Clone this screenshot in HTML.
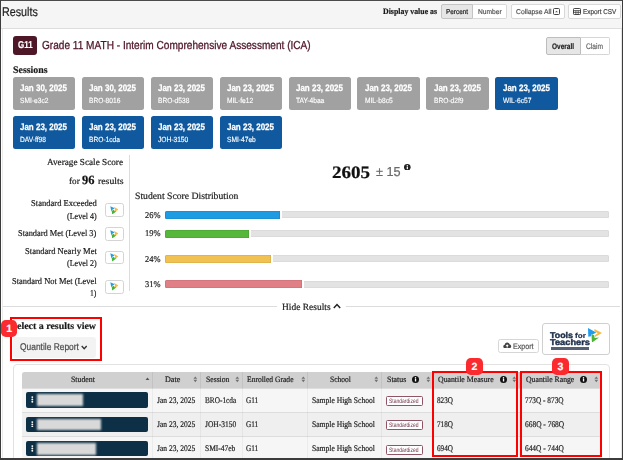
<!DOCTYPE html>
<html><head><meta charset="utf-8"><title>Results</title>
<style>
html,body{margin:0;padding:0;}
body{width:623px;height:460px;position:relative;overflow:hidden;background:#fff;font-family:"Liberation Sans", sans-serif;}
#root{position:absolute;left:0;top:0;width:623px;height:460px;overflow:hidden;background:#fff;}
#root div,#root svg{position:absolute;box-sizing:border-box;}
.t{position:absolute;white-space:nowrap;transform-origin:0 50%;display:block;-webkit-text-stroke:0.2px currentColor;text-rendering:geometricPrecision;}
.sa{font-family:"Liberation Sans", sans-serif;}
.se{font-family:"Liberation Serif", serif;}
</style></head><body><div id="root">
<div style="left:1px;top:1px;width:621px;height:27px;background:#f5f5f5"></div>
<div style="left:1px;top:28px;width:621px;height:1px;background:#dedede"></div>
<div style="left:2px;top:29px;width:619.5px;height:430px;background:#fff;border-left:1px solid #ebebeb;border-right:1px solid #e6e6e6"></div>
<div style="left:441px;top:4.4px;width:32px;height:15px;background:#e6e6e6;border:1px solid #c4c4c4;border-radius:2px 0 0 2px"></div>
<div style="left:472.5px;top:4.4px;width:34.5px;height:15px;background:#fff;border:1px solid #d8d8d8;border-left:none;border-radius:0 2px 2px 0"></div>
<div style="left:511.2px;top:4.4px;width:53.4px;height:15px;background:#fff;border:1px solid #d8d8d8;border-radius:2px"></div>
<svg style="left:553px;top:8.2px" width="7" height="7" viewBox="0 0 7 7"><rect x="0.5" y="0.5" width="6" height="6" rx="1" fill="none" stroke="#444" stroke-width="1"/><path d="M2 4.3 L3.5 2.7 L5 4.3 Z" fill="#555"/></svg>
<div style="left:568.2px;top:4.4px;width:52.7px;height:15px;background:#fff;border:1px solid #d8d8d8;border-radius:2px"></div>
<svg style="left:573px;top:8.2px" width="8" height="7" viewBox="0 0 8 7"><rect x="0.5" y="0.5" width="7" height="6" rx="0.8" fill="none" stroke="#444" stroke-width="1"/><path d="M0.5 2.6H7.5M0.5 4.4H7.5M2.9 2.6V6.5M5.2 2.6V6.5" stroke="#444" stroke-width="0.8" fill="none"/></svg>
<div style="left:13px;top:36px;width:24px;height:19px;background:#4d1728;border-radius:3px"></div>
<div style="left:546px;top:37.3px;width:35px;height:17.4px;background:#e6e6e6;border:1px solid #bdbdbd;border-radius:2px 0 0 2px"></div>
<div style="left:581px;top:37.3px;width:29.2px;height:17.4px;background:#fff;border:1px solid #d6d6d6;border-left:none;border-radius:0 2px 2px 0"></div>
<div style="left:12.7px;top:77.1px;width:62.7px;height:32.7px;background:#a1a1a1;border-radius:2.5px"></div>
<div style="left:81.65px;top:77.1px;width:62.7px;height:32.7px;background:#a1a1a1;border-radius:2.5px"></div>
<div style="left:150.6px;top:77.1px;width:62.7px;height:32.7px;background:#a1a1a1;border-radius:2.5px"></div>
<div style="left:219.55px;top:77.1px;width:62.7px;height:32.7px;background:#a1a1a1;border-radius:2.5px"></div>
<div style="left:288.5px;top:77.1px;width:62.7px;height:32.7px;background:#a1a1a1;border-radius:2.5px"></div>
<div style="left:357.45px;top:77.1px;width:62.7px;height:32.7px;background:#a1a1a1;border-radius:2.5px"></div>
<div style="left:426.40000000000003px;top:77.1px;width:62.7px;height:32.7px;background:#a1a1a1;border-radius:2.5px"></div>
<div style="left:495.35px;top:77.1px;width:62.7px;height:32.7px;background:#11599e;border-radius:2.5px"></div>
<div style="left:12.7px;top:116.3px;width:62.7px;height:32.7px;background:#11599e;border-radius:2.5px"></div>
<div style="left:81.65px;top:116.3px;width:62.7px;height:32.7px;background:#11599e;border-radius:2.5px"></div>
<div style="left:150.6px;top:116.3px;width:62.7px;height:32.7px;background:#11599e;border-radius:2.5px"></div>
<div style="left:219.55px;top:116.3px;width:62.7px;height:32.7px;background:#11599e;border-radius:2.5px"></div>
<svg style="left:404px;top:163.7px" width="6.6" height="6.6" viewBox="0 0 10 10"><circle cx="5" cy="5" r="5" fill="#222"/><rect x="4.1" y="4.2" width="1.9" height="3.6" fill="#fff"/><circle cx="5" cy="2.7" r="1.1" fill="#fff"/></svg>
<div style="left:129px;top:155px;width:1px;height:136px;background:#dcdcdc"></div>
<div style="left:105px;top:203.1px;width:18.8px;height:13.8px;background:#fff;border:1px solid #d4d4d4;border-radius:2.5px"></div>
<svg style="left:109.9px;top:205.7px" width="8.6" height="8.4" viewBox="0 0 18 18"><path d="M0.5 0.5 L10 5 L5.5 7.5 L2.5 11 Z" fill="#1f9cf0"/><path d="M8 1.5 L17.5 7.5 L10.5 12.5 L9 9.5 L11 7 Z" fill="#f5b840"/><path d="M3.5 10.5 L7.5 8 L9.5 11.5 L14 11.5 L4.5 18 Z" fill="#3fb43a"/></svg>
<div style="left:105px;top:227.4px;width:18.8px;height:13.8px;background:#fff;border:1px solid #d4d4d4;border-radius:2.5px"></div>
<svg style="left:109.9px;top:230.0px" width="8.6" height="8.4" viewBox="0 0 18 18"><path d="M0.5 0.5 L10 5 L5.5 7.5 L2.5 11 Z" fill="#1f9cf0"/><path d="M8 1.5 L17.5 7.5 L10.5 12.5 L9 9.5 L11 7 Z" fill="#f5b840"/><path d="M3.5 10.5 L7.5 8 L9.5 11.5 L14 11.5 L4.5 18 Z" fill="#3fb43a"/></svg>
<div style="left:105px;top:250.6px;width:18.8px;height:13.8px;background:#fff;border:1px solid #d4d4d4;border-radius:2.5px"></div>
<svg style="left:109.9px;top:253.2px" width="8.6" height="8.4" viewBox="0 0 18 18"><path d="M0.5 0.5 L10 5 L5.5 7.5 L2.5 11 Z" fill="#1f9cf0"/><path d="M8 1.5 L17.5 7.5 L10.5 12.5 L9 9.5 L11 7 Z" fill="#f5b840"/><path d="M3.5 10.5 L7.5 8 L9.5 11.5 L14 11.5 L4.5 18 Z" fill="#3fb43a"/></svg>
<div style="left:105px;top:279.8px;width:18.8px;height:13.8px;background:#fff;border:1px solid #d4d4d4;border-radius:2.5px"></div>
<svg style="left:109.9px;top:282.40000000000003px" width="8.6" height="8.4" viewBox="0 0 18 18"><path d="M0.5 0.5 L10 5 L5.5 7.5 L2.5 11 Z" fill="#1f9cf0"/><path d="M8 1.5 L17.5 7.5 L10.5 12.5 L9 9.5 L11 7 Z" fill="#f5b840"/><path d="M3.5 10.5 L7.5 8 L9.5 11.5 L14 11.5 L4.5 18 Z" fill="#3fb43a"/></svg>
<div style="left:165px;top:211.10000000000002px;width:444.3px;height:7.3px;background:#e3e3e3;border-radius:1.5px;box-shadow:inset 0 0 0 0.6px rgba(0,0,0,0.07)"></div>
<div style="left:165px;top:210.60000000000002px;width:116.80000000000001px;height:8.2px;background:#fff"></div>
<div style="left:165px;top:210.70000000000002px;width:114.80000000000001px;height:8px;background:#1d9be3;border-radius:1.5px 0 0 1.5px;box-shadow:inset 0 0 0 0.6px rgba(0,0,0,0.13)"></div>
<div style="left:165px;top:230.0px;width:444.3px;height:7.3px;background:#e3e3e3;border-radius:1.5px;box-shadow:inset 0 0 0 0.6px rgba(0,0,0,0.07)"></div>
<div style="left:165px;top:229.5px;width:85.80000000000001px;height:8.2px;background:#fff"></div>
<div style="left:165px;top:229.6px;width:83.80000000000001px;height:8px;background:#56b73a;border-radius:1.5px 0 0 1.5px;box-shadow:inset 0 0 0 0.6px rgba(0,0,0,0.13)"></div>
<div style="left:165px;top:255.0px;width:444.3px;height:7.3px;background:#e3e3e3;border-radius:1.5px;box-shadow:inset 0 0 0 0.6px rgba(0,0,0,0.07)"></div>
<div style="left:165px;top:254.5px;width:107.9px;height:8.2px;background:#fff"></div>
<div style="left:165px;top:254.6px;width:105.9px;height:8px;background:#f1c152;border-radius:1.5px 0 0 1.5px;box-shadow:inset 0 0 0 0.6px rgba(0,0,0,0.13)"></div>
<div style="left:165px;top:280.7px;width:444.3px;height:7.3px;background:#e3e3e3;border-radius:1.5px;box-shadow:inset 0 0 0 0.6px rgba(0,0,0,0.07)"></div>
<div style="left:165px;top:280.2px;width:139.0px;height:8.2px;background:#fff"></div>
<div style="left:165px;top:280.29999999999995px;width:137.0px;height:8px;background:#e17f87;border-radius:1.5px 0 0 1.5px;box-shadow:inset 0 0 0 0.6px rgba(0,0,0,0.13)"></div>
<div style="left:3px;top:306.4px;width:274px;height:1px;background:#dcdcdc"></div>
<div style="left:345.7px;top:306.4px;width:274.5px;height:1px;background:#dcdcdc"></div>
<svg style="left:332.8px;top:303.1px" width="8" height="6" viewBox="0 0 8 6"><path d="M0.8 5 L4 1.6 L7.2 5" fill="none" stroke="#222" stroke-width="1.5"/></svg>
<div style="left:13px;top:336.5px;width:83px;height:21.5px;background:#f3f3f3;border-radius:3px"></div>
<svg style="left:81px;top:344.8px" width="6.4" height="5" viewBox="0 0 8 6"><path d="M0.9 1.2 L4 4.5 L7.1 1.2" fill="none" stroke="#333" stroke-width="1.7"/></svg>
<div style="left:498px;top:338.5px;width:40.6px;height:14px;background:#fff;border:1px solid #d6d6d6;border-radius:2.5px"></div>
<svg style="left:503.2px;top:341.9px" width="8.4" height="6.6" viewBox="0 0 15 12"><path d="M3.5 11.5a3.3 3.3 0 0 1-.6-6.5A4.6 4.6 0 0 1 11.8 4 3.8 3.8 0 0 1 11.5 11.5Z" fill="#444"/><path d="M7.5 4 L10.3 7.2H8.5V9.8H6.5V7.2H4.7Z" fill="#fff"/></svg>
<div style="left:542.3px;top:323.3px;width:67.6px;height:31.9px;background:#fff;border:1px solid #cfcfcf;border-radius:3px"></div>
<div style="left:550.8px;top:347.2px;width:38.6px;height:3.1px;background:#565f73"></div>
<svg style="left:587.9px;top:327.8px" width="14" height="14.6" viewBox="0 0 14 14.6"><path d="M0 0 L8.2 4.5 L4.6 6.4 L3.4 6 L3 8.2 L0.3 8.8 Z" fill="#1f9cf0"/><path d="M6.4 0.9 L14 4.9 L7 9.1 L6.7 7.3 L9.8 5.2 L6.4 3.2 Z" fill="#f3ba45"/><path d="M3.4 6.1 L6.1 7.3 L6.7 10 L11 9.4 L4 14.6 Z" fill="#4ab535"/></svg>
<div style="left:12.7px;top:364.1px;width:597.8px;height:110px;background:#fff;border:1px solid #e2e2e2;border-radius:4px"></div>
<div style="left:21.5px;top:372px;width:580.0px;height:15.5px;background:#d0d0d0;border-radius:2.5px 2.5px 0 0"></div>
<div style="left:21.5px;top:387.5px;width:580.0px;height:24.6px;background:#f6f6f6;border-top:1px solid #dddddd"></div>
<div style="left:21.5px;top:411.9px;width:580.0px;height:24.6px;background:#efefef;border-top:1px solid #dddddd"></div>
<div style="left:21.5px;top:436.3px;width:580.0px;height:24.6px;background:#f6f6f6;border-top:1px solid #dddddd"></div>
<div style="left:152.3px;top:372px;width:1px;height:15.5px;background:#c2c2c2"></div>
<div style="left:152.3px;top:387.5px;width:1px;height:80px;background:rgba(0,0,0,0.045)"></div>
<div style="left:200.4px;top:372px;width:1px;height:15.5px;background:#c2c2c2"></div>
<div style="left:200.4px;top:387.5px;width:1px;height:80px;background:rgba(0,0,0,0.045)"></div>
<div style="left:241.7px;top:372px;width:1px;height:15.5px;background:#c2c2c2"></div>
<div style="left:241.7px;top:387.5px;width:1px;height:80px;background:rgba(0,0,0,0.045)"></div>
<div style="left:307.2px;top:372px;width:1px;height:15.5px;background:#c2c2c2"></div>
<div style="left:307.2px;top:387.5px;width:1px;height:80px;background:rgba(0,0,0,0.045)"></div>
<div style="left:381.3px;top:372px;width:1px;height:15.5px;background:#c2c2c2"></div>
<div style="left:381.3px;top:387.5px;width:1px;height:80px;background:rgba(0,0,0,0.045)"></div>
<div style="left:433.0px;top:372px;width:1px;height:15.5px;background:#c2c2c2"></div>
<div style="left:433.0px;top:387.5px;width:1px;height:80px;background:rgba(0,0,0,0.045)"></div>
<div style="left:518.5px;top:372px;width:1px;height:15.5px;background:#c2c2c2"></div>
<div style="left:518.5px;top:387.5px;width:1px;height:80px;background:rgba(0,0,0,0.045)"></div>
<svg style="left:193.3px;top:376.0px" width="4.6" height="6.6" viewBox="0 0 4.4 7"><path d="M0.2 2.9 L2.2 0.4 L4.2 2.9 Z M0.2 4.1 L2.2 6.6 L4.2 4.1 Z" fill="#707070"/></svg>
<svg style="left:235.20000000000002px;top:376.0px" width="4.6" height="6.6" viewBox="0 0 4.4 7"><path d="M0.2 2.9 L2.2 0.4 L4.2 2.9 Z M0.2 4.1 L2.2 6.6 L4.2 4.1 Z" fill="#707070"/></svg>
<svg style="left:300.5px;top:376.0px" width="4.6" height="6.6" viewBox="0 0 4.4 7"><path d="M0.2 2.9 L2.2 0.4 L4.2 2.9 Z M0.2 4.1 L2.2 6.6 L4.2 4.1 Z" fill="#707070"/></svg>
<svg style="left:374.2px;top:376.0px" width="4.6" height="6.6" viewBox="0 0 4.4 7"><path d="M0.2 2.9 L2.2 0.4 L4.2 2.9 Z M0.2 4.1 L2.2 6.6 L4.2 4.1 Z" fill="#707070"/></svg>
<svg style="left:425.5px;top:376.0px" width="4.6" height="6.6" viewBox="0 0 4.4 7"><path d="M0.2 2.9 L2.2 0.4 L4.2 2.9 Z M0.2 4.1 L2.2 6.6 L4.2 4.1 Z" fill="#707070"/></svg>
<svg style="left:512.4px;top:376.0px" width="4.6" height="6.6" viewBox="0 0 4.4 7"><path d="M0.2 2.9 L2.2 0.4 L4.2 2.9 Z M0.2 4.1 L2.2 6.6 L4.2 4.1 Z" fill="#707070"/></svg>
<svg style="left:594.1px;top:376.0px" width="4.6" height="6.6" viewBox="0 0 4.4 7"><path d="M0.2 2.9 L2.2 0.4 L4.2 2.9 Z M0.2 4.1 L2.2 6.6 L4.2 4.1 Z" fill="#707070"/></svg>
<svg style="left:144.7px;top:376.8px" width="5" height="3.6" viewBox="0 0 4.6 3.4"><path d="M0.2 3.2 L2.3 0.4 L4.4 3.2 Z" fill="#555"/></svg>
<svg style="left:412.0px;top:376.1px" width="7" height="7" viewBox="0 0 10 10"><circle cx="5" cy="5" r="5" fill="#111"/><rect x="4.1" y="4.2" width="1.9" height="3.6" fill="#fff"/><circle cx="5" cy="2.7" r="1.1" fill="#fff"/></svg>
<svg style="left:499.5px;top:376.1px" width="7" height="7" viewBox="0 0 10 10"><circle cx="5" cy="5" r="5" fill="#111"/><rect x="4.1" y="4.2" width="1.9" height="3.6" fill="#fff"/><circle cx="5" cy="2.7" r="1.1" fill="#fff"/></svg>
<svg style="left:580.0px;top:376.1px" width="7" height="7" viewBox="0 0 10 10"><circle cx="5" cy="5" r="5" fill="#111"/><rect x="4.1" y="4.2" width="1.9" height="3.6" fill="#fff"/><circle cx="5" cy="2.7" r="1.1" fill="#fff"/></svg>
<div style="left:25.9px;top:392.1px;width:122px;height:15.6px;background:#0e3046;border-radius:2px"></div>
<svg style="left:31.1px;top:396.3px" width="2.6" height="6.8" viewBox="0 0 2.6 6.8"><circle cx="1.3" cy="1.1" r="0.95" fill="#fff"/><circle cx="1.3" cy="3.4" r="0.95" fill="#fff"/><circle cx="1.3" cy="5.7" r="0.95" fill="#fff"/></svg>
<div style="left:36.5px;top:394.2px;width:46.5px;height:11.5px;background:#d9d9d9;filter:blur(1px)"></div>
<div style="left:386px;top:396.0px;width:36.8px;height:9.8px;background:#fff;border:1px solid #8f5564;border-radius:1.5px"></div>
<div style="left:25.9px;top:416.5px;width:122px;height:15.6px;background:#0e3046;border-radius:2px"></div>
<svg style="left:31.1px;top:420.7px" width="2.6" height="6.8" viewBox="0 0 2.6 6.8"><circle cx="1.3" cy="1.1" r="0.95" fill="#fff"/><circle cx="1.3" cy="3.4" r="0.95" fill="#fff"/><circle cx="1.3" cy="5.7" r="0.95" fill="#fff"/></svg>
<div style="left:36.5px;top:418.59999999999997px;width:64.7px;height:11.5px;background:#d9d9d9;filter:blur(1px)"></div>
<div style="left:386px;top:420.4px;width:36.8px;height:9.8px;background:#fff;border:1px solid #8f5564;border-radius:1.5px"></div>
<div style="left:25.9px;top:440.90000000000003px;width:122px;height:15.6px;background:#0e3046;border-radius:2px"></div>
<svg style="left:31.1px;top:445.1px" width="2.6" height="6.8" viewBox="0 0 2.6 6.8"><circle cx="1.3" cy="1.1" r="0.95" fill="#fff"/><circle cx="1.3" cy="3.4" r="0.95" fill="#fff"/><circle cx="1.3" cy="5.7" r="0.95" fill="#fff"/></svg>
<div style="left:36.5px;top:443.0px;width:59.3px;height:11.5px;background:#d9d9d9;filter:blur(1px)"></div>
<div style="left:386px;top:444.8px;width:36.8px;height:9.8px;background:#fff;border:1px solid #8f5564;border-radius:1.5px"></div>
<span class="t sa" style="left:1.90px;top:5.00px;font-weight:400;font-size:12.6px;line-height:15.12px;color:#1c1c1c;transform:scaleX(0.8524);">Results</span>
<span class="t se" style="left:382.70px;top:7.00px;font-weight:700;font-size:8.4px;line-height:10.08px;color:#1a1a1a;transform:scaleX(0.9373);">Display value as</span>
<span class="t sa" style="left:446.00px;top:9.00px;font-weight:400;font-size:7px;line-height:8.4px;color:#222;transform:scaleX(0.9161);">Percent</span>
<span class="t sa" style="left:478.20px;top:9.00px;font-weight:400;font-size:7px;line-height:8.4px;color:#555;transform:scaleX(0.9476);">Number</span>
<span class="t sa" style="left:515.70px;top:9.00px;font-weight:400;font-size:7px;line-height:8.4px;color:#555;transform:scaleX(0.9705);">Collapse All</span>
<span class="t sa" style="left:582.70px;top:9.00px;font-weight:400;font-size:7px;line-height:8.4px;color:#444;transform:scaleX(0.9104);">Export CSV</span>
<span class="t sa" style="left:17.60px;top:40.00px;font-weight:700;font-size:10px;line-height:12.0px;color:#fff;transform:scaleX(0.7952);">G11</span>
<span class="t sa" style="left:41.90px;top:39.00px;font-weight:400;font-size:11.6px;line-height:13.92px;color:#4f172b;transform:scaleX(0.8700);-webkit-text-stroke:0.3px #4f172b;">Grade 11 MATH - Interim Comprehensive Assessment (ICA)</span>
<span class="t sa" style="left:552.00px;top:42.00px;font-weight:700;font-size:8px;line-height:9.6px;color:#222;transform:scaleX(0.8106);">Overall</span>
<span class="t sa" style="left:586.20px;top:42.00px;font-weight:400;font-size:8px;line-height:9.6px;color:#666;transform:scaleX(0.8312);">Claim</span>
<span class="t se" style="left:13.00px;top:65.00px;font-weight:700;font-size:10px;line-height:12.0px;color:#1a1a1a;transform:scaleX(0.9881);">Sessions</span>
<span class="t sa" style="left:20.30px;top:82.00px;font-weight:700;font-size:9.4px;line-height:11.28px;color:#fff;transform:scaleX(0.8504);-webkit-text-stroke:0.25px #fff;">Jan 30, 2025</span>
<span class="t sa" style="left:20.30px;top:96.00px;font-weight:400;font-size:7.5px;line-height:9.0px;color:#fff;transform:scaleX(0.8850);-webkit-text-stroke:0.15px #fff;">SMI-e3c2</span>
<span class="t sa" style="left:89.25px;top:82.00px;font-weight:700;font-size:9.4px;line-height:11.28px;color:#fff;transform:scaleX(0.8504);-webkit-text-stroke:0.25px #fff;">Jan 30, 2025</span>
<span class="t sa" style="left:89.25px;top:96.00px;font-weight:400;font-size:7.5px;line-height:9.0px;color:#fff;transform:scaleX(0.8850);-webkit-text-stroke:0.15px #fff;">BRO-8016</span>
<span class="t sa" style="left:158.20px;top:82.00px;font-weight:700;font-size:9.4px;line-height:11.28px;color:#fff;transform:scaleX(0.8504);-webkit-text-stroke:0.25px #fff;">Jan 23, 2025</span>
<span class="t sa" style="left:158.20px;top:96.00px;font-weight:400;font-size:7.5px;line-height:9.0px;color:#fff;transform:scaleX(0.8850);-webkit-text-stroke:0.15px #fff;">BRO-d538</span>
<span class="t sa" style="left:227.15px;top:82.00px;font-weight:700;font-size:9.4px;line-height:11.28px;color:#fff;transform:scaleX(0.8504);-webkit-text-stroke:0.25px #fff;">Jan 23, 2025</span>
<span class="t sa" style="left:227.15px;top:96.00px;font-weight:400;font-size:7.5px;line-height:9.0px;color:#fff;transform:scaleX(0.8850);-webkit-text-stroke:0.15px #fff;">MIL-fe12</span>
<span class="t sa" style="left:296.10px;top:82.00px;font-weight:700;font-size:9.4px;line-height:11.28px;color:#fff;transform:scaleX(0.8504);-webkit-text-stroke:0.25px #fff;">Jan 23, 2025</span>
<span class="t sa" style="left:296.10px;top:96.00px;font-weight:400;font-size:7.5px;line-height:9.0px;color:#fff;transform:scaleX(0.8850);-webkit-text-stroke:0.15px #fff;">TAY-4baa</span>
<span class="t sa" style="left:365.05px;top:82.00px;font-weight:700;font-size:9.4px;line-height:11.28px;color:#fff;transform:scaleX(0.8504);-webkit-text-stroke:0.25px #fff;">Jan 23, 2025</span>
<span class="t sa" style="left:365.05px;top:96.00px;font-weight:400;font-size:7.5px;line-height:9.0px;color:#fff;transform:scaleX(0.8850);-webkit-text-stroke:0.15px #fff;">MIL-b8c5</span>
<span class="t sa" style="left:434.00px;top:82.00px;font-weight:700;font-size:9.4px;line-height:11.28px;color:#fff;transform:scaleX(0.8504);-webkit-text-stroke:0.25px #fff;">Jan 23, 2025</span>
<span class="t sa" style="left:434.00px;top:96.00px;font-weight:400;font-size:7.5px;line-height:9.0px;color:#fff;transform:scaleX(0.8850);-webkit-text-stroke:0.15px #fff;">BRO-d2f9</span>
<span class="t sa" style="left:502.95px;top:82.00px;font-weight:700;font-size:9.4px;line-height:11.28px;color:#fff;transform:scaleX(0.8504);-webkit-text-stroke:0.25px #fff;">Jan 23, 2025</span>
<span class="t sa" style="left:502.95px;top:96.00px;font-weight:400;font-size:7.5px;line-height:9.0px;color:#fff;transform:scaleX(0.8850);-webkit-text-stroke:0.15px #fff;">WIL-6c57</span>
<span class="t sa" style="left:20.30px;top:121.00px;font-weight:700;font-size:9.4px;line-height:11.28px;color:#fff;transform:scaleX(0.8504);-webkit-text-stroke:0.25px #fff;">Jan 23, 2025</span>
<span class="t sa" style="left:20.30px;top:135.00px;font-weight:400;font-size:7.5px;line-height:9.0px;color:#fff;transform:scaleX(0.8850);-webkit-text-stroke:0.15px #fff;">DAV-ff98</span>
<span class="t sa" style="left:89.25px;top:121.00px;font-weight:700;font-size:9.4px;line-height:11.28px;color:#fff;transform:scaleX(0.8504);-webkit-text-stroke:0.25px #fff;">Jan 23, 2025</span>
<span class="t sa" style="left:89.25px;top:135.00px;font-weight:400;font-size:7.5px;line-height:9.0px;color:#fff;transform:scaleX(0.8850);-webkit-text-stroke:0.15px #fff;">BRO-1cda</span>
<span class="t sa" style="left:158.20px;top:121.00px;font-weight:700;font-size:9.4px;line-height:11.28px;color:#fff;transform:scaleX(0.8504);-webkit-text-stroke:0.25px #fff;">Jan 23, 2025</span>
<span class="t sa" style="left:158.20px;top:135.00px;font-weight:400;font-size:7.5px;line-height:9.0px;color:#fff;transform:scaleX(0.8850);-webkit-text-stroke:0.15px #fff;">JOH-3150</span>
<span class="t sa" style="left:227.15px;top:121.00px;font-weight:700;font-size:9.4px;line-height:11.28px;color:#fff;transform:scaleX(0.8504);-webkit-text-stroke:0.25px #fff;">Jan 23, 2025</span>
<span class="t sa" style="left:227.15px;top:135.00px;font-weight:400;font-size:7.5px;line-height:9.0px;color:#fff;transform:scaleX(0.8850);-webkit-text-stroke:0.15px #fff;">SMI-47eb</span>
<span class="t se" style="left:47.30px;top:157.00px;font-weight:400;font-size:9.2px;line-height:11.04px;color:#222;transform:scaleX(1.0021);">Average Scale Score</span>
<span class="t se" style="left:68.50px;top:176.00px;font-weight:400;font-size:9.2px;line-height:11.04px;color:#222;transform:scaleX(0.9983);">for</span>
<span class="t se" style="left:82.20px;top:173.00px;font-weight:700;font-size:12.6px;line-height:15.12px;color:#111;transform:scaleX(0.9926);">96</span>
<span class="t se" style="left:97.70px;top:176.00px;font-weight:400;font-size:9.2px;line-height:11.04px;color:#222;transform:scaleX(1.0667);">results</span>
<span class="t se" style="left:331.80px;top:162.00px;font-weight:700;font-size:17.5px;line-height:21.0px;color:#111;transform:scaleX(1.0886);">2605</span>
<span class="t sa" style="left:375.50px;top:164.00px;font-weight:400;font-size:13px;line-height:15.6px;color:#6a6a6a;transform:scaleX(0.9794);">± 15</span>
<span class="t se" style="left:30.80px;top:198.00px;font-weight:400;font-size:9px;line-height:10.8px;color:#222;transform:scaleX(0.9506);">Standard Exceeded</span>
<span class="t se" style="left:66.90px;top:211.00px;font-weight:400;font-size:9px;line-height:10.8px;color:#222;transform:scaleX(0.8937);">(Level 4)</span>
<span class="t se" style="left:18.30px;top:228.00px;font-weight:400;font-size:9px;line-height:10.8px;color:#222;transform:scaleX(0.9295);">Standard Met (Level 3)</span>
<span class="t se" style="left:24.70px;top:246.00px;font-weight:400;font-size:9px;line-height:10.8px;color:#222;transform:scaleX(0.9525);">Standard Nearly Met</span>
<span class="t se" style="left:66.90px;top:258.00px;font-weight:400;font-size:9px;line-height:10.8px;color:#222;transform:scaleX(0.8937);">(Level 2)</span>
<span class="t se" style="left:11.90px;top:276.00px;font-weight:400;font-size:9px;line-height:10.8px;color:#222;transform:scaleX(0.9387);">Standard Not Met (Level</span>
<span class="t se" style="left:90.20px;top:288.00px;font-weight:400;font-size:9px;line-height:10.8px;color:#222;transform:scaleX(0.8533);">1)</span>
<span class="t se" style="left:134.60px;top:191.00px;font-weight:400;font-size:9.7px;line-height:11.64px;color:#222;transform:scaleX(1.0007);">Student Score Distribution</span>
<span class="t se" style="left:144.90px;top:210.00px;font-weight:400;font-size:9px;line-height:10.8px;color:#222;transform:scaleX(0.9333);">26%</span>
<span class="t se" style="left:144.90px;top:228.00px;font-weight:400;font-size:9px;line-height:10.8px;color:#222;transform:scaleX(0.9333);">19%</span>
<span class="t se" style="left:144.90px;top:254.00px;font-weight:400;font-size:9px;line-height:10.8px;color:#222;transform:scaleX(0.9333);">24%</span>
<span class="t se" style="left:144.90px;top:279.00px;font-weight:400;font-size:9px;line-height:10.8px;color:#222;transform:scaleX(0.9333);">31%</span>
<span class="t se" style="left:282.20px;top:303.00px;font-weight:400;font-size:9.5px;line-height:11.4px;color:#222;transform:scaleX(0.9953);">Hide Results</span>
<span class="t se" style="left:17.30px;top:321.00px;font-weight:700;font-size:9.8px;line-height:11.76px;color:#1a1a1a;transform:scaleX(1.0140);">elect a results view</span>
<span class="t sa" style="left:20.20px;top:342.00px;font-weight:400;font-size:9.8px;line-height:11.76px;color:#4a4a4a;transform:scaleX(0.8583);">Quantile Report</span>
<span class="t sa" style="left:512.60px;top:342.00px;font-weight:400;font-size:8px;line-height:9.6px;color:#505050;transform:scaleX(0.8908);">Export</span>
<span class="t sa" style="left:550.20px;top:330.00px;font-weight:700;font-size:8.4px;line-height:10.08px;color:#1d2e4a;transform:scaleX(1.0590);-webkit-text-stroke:0.4px #1d2e4a;">Tools</span>
<span class="t sa" style="left:575.20px;top:332.00px;font-weight:700;font-size:7.2px;line-height:8.64px;color:#1d2e4a;transform:scaleX(1.1257);">for</span>
<span class="t sa" style="left:550.20px;top:337.00px;font-weight:700;font-size:8.4px;line-height:10.08px;color:#1d2e4a;transform:scaleX(1.1058);-webkit-text-stroke:0.4px #1d2e4a;">Teachers</span>
<span class="t se" style="left:70.90px;top:375.00px;font-weight:400;font-size:8.3px;line-height:9.96px;color:#222;transform:scaleX(0.9385);">Student</span>
<span class="t se" style="left:165.30px;top:375.00px;font-weight:400;font-size:8.3px;line-height:9.96px;color:#222;transform:scaleX(0.9763);">Date</span>
<span class="t se" style="left:205.80px;top:375.00px;font-weight:400;font-size:8.3px;line-height:9.96px;color:#222;transform:scaleX(0.9227);">Session</span>
<span class="t se" style="left:247.40px;top:375.00px;font-weight:400;font-size:8.3px;line-height:9.96px;color:#222;transform:scaleX(0.9132);">Enrolled Grade</span>
<span class="t se" style="left:330.00px;top:375.00px;font-weight:400;font-size:8.3px;line-height:9.96px;color:#222;transform:scaleX(0.9019);">School</span>
<span class="t se" style="left:386.50px;top:375.00px;font-weight:400;font-size:8.3px;line-height:9.96px;color:#222;transform:scaleX(0.9509);">Status</span>
<span class="t se" style="left:438.10px;top:375.00px;font-weight:400;font-size:8.3px;line-height:9.96px;color:#222;transform:scaleX(0.9389);">Quantile Measure</span>
<span class="t se" style="left:525.70px;top:375.00px;font-weight:400;font-size:8.3px;line-height:9.96px;color:#222;transform:scaleX(0.9316);">Quantile Range</span>
<span class="t se" style="left:156.60px;top:395.00px;font-weight:400;font-size:8.6px;line-height:10.32px;color:#222;transform:scaleX(0.8744);">Jan 23, 2025</span>
<span class="t se" style="left:204.90px;top:395.00px;font-weight:400;font-size:8.6px;line-height:10.32px;color:#222;transform:scaleX(0.8486);">BRO-1cda</span>
<span class="t se" style="left:246.40px;top:395.00px;font-weight:400;font-size:8.6px;line-height:10.32px;color:#222;transform:scaleX(0.8423);">G11</span>
<span class="t se" style="left:312.10px;top:395.00px;font-weight:400;font-size:8.6px;line-height:10.32px;color:#222;transform:scaleX(0.8842);">Sample High School</span>
<span class="t sa" style="left:389.40px;top:398.00px;font-weight:400;font-size:6.3px;line-height:7.56px;color:#70364a;transform:scaleX(0.7949);-webkit-text-stroke:0;">Standardized</span>
<span class="t se" style="left:437.40px;top:395.00px;font-weight:400;font-size:8.6px;line-height:10.32px;color:#222;transform:scaleX(0.8321);">823Q</span>
<span class="t se" style="left:525.00px;top:395.00px;font-weight:400;font-size:8.6px;line-height:10.32px;color:#222;transform:scaleX(0.8510);">773Q - 873Q</span>
<span class="t se" style="left:156.60px;top:419.00px;font-weight:400;font-size:8.6px;line-height:10.32px;color:#222;transform:scaleX(0.8744);">Jan 23, 2025</span>
<span class="t se" style="left:204.90px;top:419.00px;font-weight:400;font-size:8.6px;line-height:10.32px;color:#222;transform:scaleX(0.8712);">JOH-3150</span>
<span class="t se" style="left:246.40px;top:419.00px;font-weight:400;font-size:8.6px;line-height:10.32px;color:#222;transform:scaleX(0.8423);">G11</span>
<span class="t se" style="left:312.10px;top:419.00px;font-weight:400;font-size:8.6px;line-height:10.32px;color:#222;transform:scaleX(0.8842);">Sample High School</span>
<span class="t sa" style="left:389.40px;top:422.00px;font-weight:400;font-size:6.3px;line-height:7.56px;color:#70364a;transform:scaleX(0.7949);-webkit-text-stroke:0;">Standardized</span>
<span class="t se" style="left:437.40px;top:419.00px;font-weight:400;font-size:8.6px;line-height:10.32px;color:#222;transform:scaleX(0.8321);">718Q</span>
<span class="t se" style="left:525.00px;top:419.00px;font-weight:400;font-size:8.6px;line-height:10.32px;color:#222;transform:scaleX(0.8642);">668Q - 768Q</span>
<span class="t se" style="left:156.60px;top:443.00px;font-weight:400;font-size:8.6px;line-height:10.32px;color:#222;transform:scaleX(0.8744);">Jan 23, 2025</span>
<span class="t se" style="left:204.90px;top:443.00px;font-weight:400;font-size:8.6px;line-height:10.32px;color:#222;transform:scaleX(0.8692);">SMI-47eb</span>
<span class="t se" style="left:246.40px;top:443.00px;font-weight:400;font-size:8.6px;line-height:10.32px;color:#222;transform:scaleX(0.8423);">G11</span>
<span class="t se" style="left:312.10px;top:443.00px;font-weight:400;font-size:8.6px;line-height:10.32px;color:#222;transform:scaleX(0.8842);">Sample High School</span>
<span class="t sa" style="left:389.40px;top:447.00px;font-weight:400;font-size:6.3px;line-height:7.56px;color:#70364a;transform:scaleX(0.7949);-webkit-text-stroke:0;">Standardized</span>
<span class="t se" style="left:437.40px;top:443.00px;font-weight:400;font-size:8.6px;line-height:10.32px;color:#222;transform:scaleX(0.8321);">694Q</span>
<span class="t se" style="left:525.00px;top:443.00px;font-weight:400;font-size:8.6px;line-height:10.32px;color:#222;transform:scaleX(0.8576);">644Q - 744Q</span>
<div style="left:10px;top:317.4px;width:92px;height:43.4px;border:2px solid #ff0000"></div>
<div style="left:432px;top:370.9px;width:85.6px;height:86px;border:2px solid #ff0000"></div>
<div style="left:519.6px;top:370.9px;width:82.4px;height:86px;border:2px solid #ff0000"></div>
<div style="left:0.8px;top:319.5px;width:16.5px;height:17.7px;background:#fb2a2e;border-radius:4.8px"></div>
<span class="t sa" style="left:0.8px;top:319.5px;width:16.5px;text-align:center;font-weight:700;font-size:10.5px;line-height:18.9px;color:#fff">1</span>
<div style="left:465.8px;top:357.5px;width:17.3px;height:17.7px;background:#fb2a2e;border-radius:4.8px"></div>
<span class="t sa" style="left:465.8px;top:357.5px;width:17.3px;text-align:center;font-weight:700;font-size:10.5px;line-height:18.9px;color:#fff">2</span>
<div style="left:551.9px;top:357.5px;width:17.3px;height:17.7px;background:#fb2a2e;border-radius:4.8px"></div>
<span class="t sa" style="left:551.9px;top:357.5px;width:17.3px;text-align:center;font-weight:700;font-size:10.5px;line-height:18.9px;color:#fff">3</span>
<div style="left:0;top:0;width:623px;height:1px;background:#4a4a4a"></div>
<div style="left:0;top:0;width:1px;height:460px;background:#3c3c3c"></div>
<div style="left:622px;top:0;width:1px;height:460px;background:#3c3c3c"></div>
<div style="left:0;top:458px;width:623px;height:2px;background:#3c3c3c"></div>
</div></body></html>
